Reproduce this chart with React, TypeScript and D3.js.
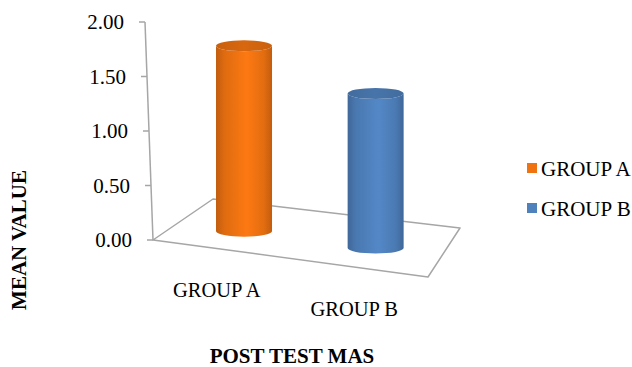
import React from "react";
import * as d3 from "d3";

// Chart data
const categories = ["GROUP A", "GROUP B"];
const values = [1.8, 1.5];
const seriesColors = ["#F07311", "#4F81BD"];
const tickValues = [0, 0.5, 1.0, 1.5, 2.0];
const yTitle = "MEAN VALUE";
const xTitle = "POST TEST MAS";

const W = 632;
const H = 367;
const FONT = "'Liberation Serif', 'Times New Roman', serif";

// Floor quad corners (front-left, front-right, back-left, back-right)
const FL: [number, number] = [153, 240];
const FR: [number, number] = [428, 277];
const BL: [number, number] = [213, 199];
const BR: [number, number] = [460, 228];

// Bilinear mapping from (u along category axis, w depth) onto the floor
function floorPoint(u: number, w: number): [number, number] {
  const lx = FL[0] + w * (BL[0] - FL[0]);
  const ly = FL[1] + w * (BL[1] - FL[1]);
  const rx = FR[0] + w * (BR[0] - FR[0]);
  const ry = FR[1] + w * (BR[1] - FR[1]);
  return [lx + u * (rx - lx), ly + u * (ry - ly)];
}

const BAR_DEPTH = 0.42;
const uScale = d3.scalePoint<string>().domain(categories).range([0, 1]).padding(0.5);
const heightScale = d3.scaleLinear().domain([0, 2]).range([0, 206]);

// Value axis runs up the front-left corner
const axisY = d3.scaleLinear().domain([0, 2]).range([240, 22]);
const axisX = d3.scaleLinear().domain([0, 2]).range([153, 145]);
const fmt = d3.format(".2f");

function shade(c: string, k: number) {
  const col = d3.color(c)!;
  return k >= 0 ? col.brighter(k).formatHex() : col.darker(-k).formatHex();
}

function Cylinder({ cx, by, h, color, id }: { cx: number; by: number; h: number; color: string; id: string }) {
  const rx = 28;
  const ry = 5.5;
  const ty = by - h;
  const body = `M${cx - rx},${ty} L${cx - rx},${by} A${rx},${ry} 0 0 0 ${cx + rx},${by} L${cx + rx},${ty} A${rx},${ry} 0 0 1 ${cx - rx},${ty} Z`;
  return (
    <g>
      <defs>
        <linearGradient id={`body-${id}`} x1="0" x2="1" y1="0" y2="0">
          <stop offset="0%" stopColor={shade(color, -0.6)} />
          <stop offset="15%" stopColor={shade(color, -0.2)} />
          <stop offset="55%" stopColor={shade(color, 0.15)} />
          <stop offset="85%" stopColor={shade(color, -0.15)} />
          <stop offset="100%" stopColor={shade(color, -0.6)} />
        </linearGradient>
        <linearGradient id={`top-${id}`} x1="0" x2="1" y1="0" y2="0">
          <stop offset="0%" stopColor={shade(color, -0.5)} />
          <stop offset="50%" stopColor={shade(color, -0.3)} />
          <stop offset="100%" stopColor={shade(color, -0.5)} />
        </linearGradient>
      </defs>
      <path d={body} fill={`url(#body-${id})`} />
      <ellipse cx={cx} cy={ty} rx={rx} ry={ry} fill={`url(#top-${id})`} />
    </g>
  );
}

export default function App() {
  const floorPath = `M${FL[0]},${FL[1]} L${FR[0]},${FR[1]} L${BR[0]},${BR[1]} L${BL[0]},${BL[1]} Z`;
  return (
    <svg width={W} height={H} style={{ position: "absolute", left: 0, top: 0, background: "#fff" }} fontFamily={FONT}>
      {/* floor */}
      <path d={floorPath} fill="none" stroke="#A6A6A6" strokeWidth={1.5} strokeLinejoin="round" />
      {/* value axis */}
      <line x1={axisX(0)} y1={axisY(0)} x2={axisX(2)} y2={axisY(2)} stroke="#A6A6A6" strokeWidth={1.5} />
      {tickValues.map((t) => (
        <g key={t}>
          <line x1={axisX(t) - 6} x2={axisX(t)} y1={axisY(t)} y2={axisY(t)} stroke="#A6A6A6" strokeWidth={1.5} />
          <text x={axisX(t) - 21} y={axisY(t)} dy="0.35em" textAnchor="end" fontSize={21} fill="#000">
            {fmt(t)}
          </text>
        </g>
      ))}
      {/* bars */}
      {categories.map((c, i) => {
        const [cx, by] = floorPoint(uScale(c)!, BAR_DEPTH);
        return <Cylinder key={c} id={`s${i}`} cx={cx} by={by} h={heightScale(values[i])} color={seriesColors[i]} />;
      })}
      {/* category labels along the front edge */}
      {categories.map((c) => {
        const [x, y] = floorPoint(uScale(c)!, 0);
        return (
          <text key={c} x={x - 5} y={y + 48} textAnchor="middle" fontSize={20.5} fill="#000">
            {c}
          </text>
        );
      })}
      {/* axis titles */}
      <text x={292} y={363} textAnchor="middle" fontSize={21} fontWeight="bold" fill="#000">
        {xTitle}
      </text>
      <text transform="translate(26,240) rotate(-90)" textAnchor="middle" fontSize={21} fontWeight="bold" fill="#000">
        {yTitle}
      </text>
      {/* legend */}
      {categories.map((c, i) => (
        <g key={c} transform={`translate(527,${163 + i * 40})`}>
          <rect width={10} height={10} fill={seriesColors[i]} />
          <text x={14} y={12.5} fontSize={21} fill="#000">
            {c}
          </text>
        </g>
      ))}
    </svg>
  );
}
